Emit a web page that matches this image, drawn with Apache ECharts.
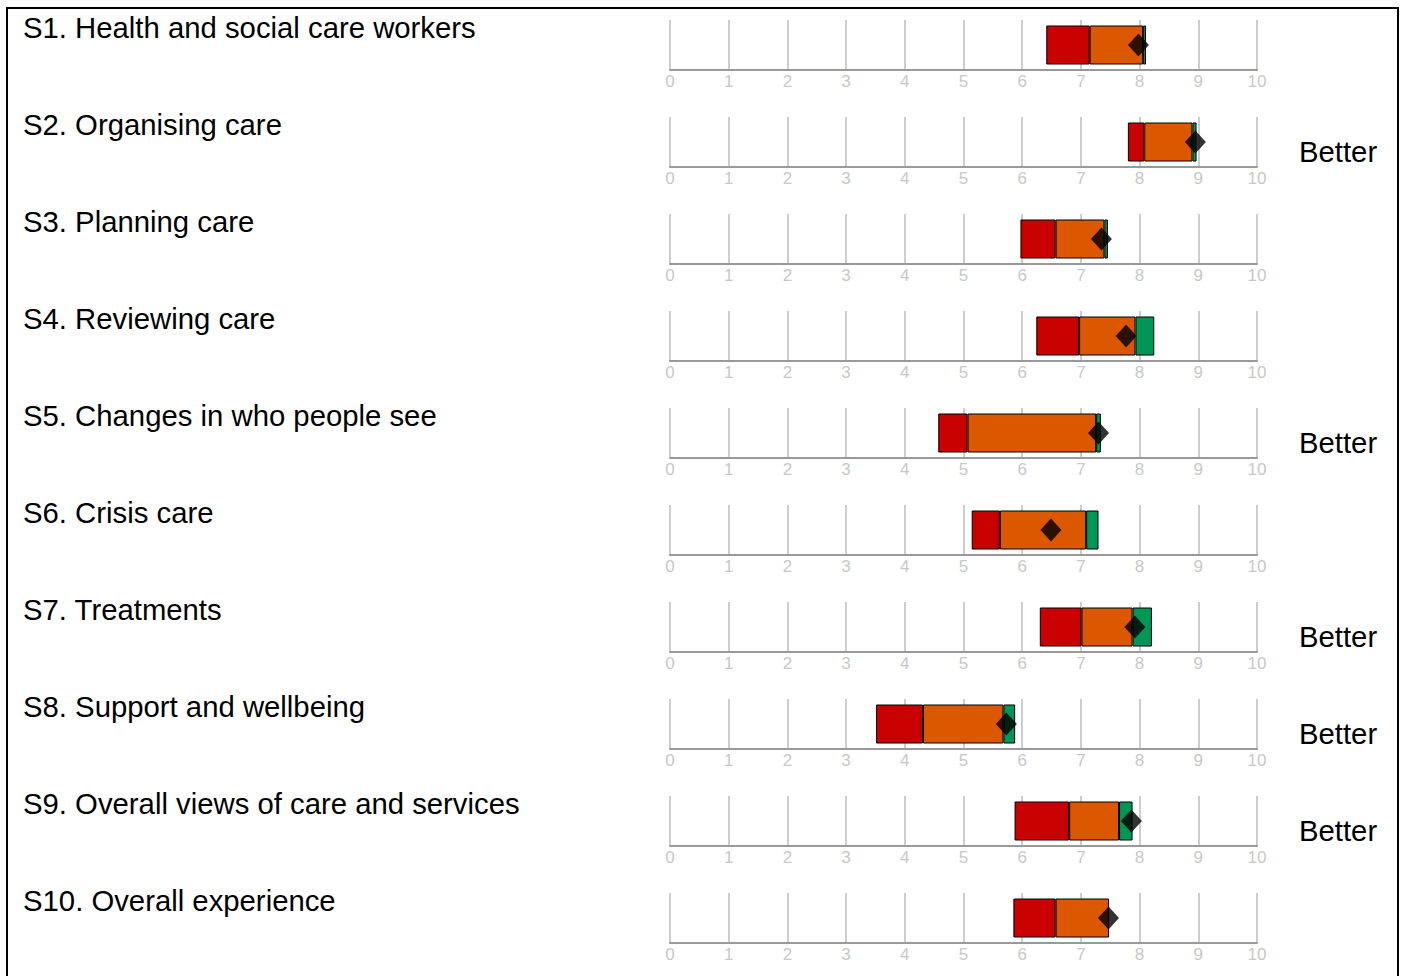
<!DOCTYPE html>
<html>
<head>
<meta charset="utf-8">
<script src="https://cdn.jsdelivr.net/npm/echarts@6/dist/echarts.min.js"></script>
<style>
html,body{margin:0;padding:0;background:#fff;}
#chart{width:1404px;height:976px;}
</style>
</head>
<body>
<div id="chart"></div>
<script>
// ---- data ----
var categories = [
  'S1. Health and social care workers',
  'S2. Organising care',
  'S3. Planning care',
  'S4. Reviewing care',
  'S5. Changes in who people see',
  'S6. Crisis care',
  'S7. Treatments',
  'S8. Support and wellbeing',
  'S9. Overall views of care and services',
  'S10. Overall experience'
];
var redStart   = [6.41, 7.80, 5.97, 6.24, 4.57, 5.14, 6.30, 3.51, 5.87, 5.85];
var redEnd     = [7.15, 8.08, 6.57, 6.97, 5.07, 5.62, 7.01, 4.31, 6.80, 6.57];
var orangeEnd  = [8.06, 8.90, 7.40, 7.93, 7.26, 7.09, 7.88, 5.68, 7.65, 7.48];
var greenEnd   = [8.11, 8.97, 7.46, 8.25, 7.34, 7.30, 8.21, 5.88, 7.88, 7.48];
var scores     = [7.98, 8.95, 7.35, 7.77, 7.30, 6.49, 7.92, 5.73, 7.86, 7.47];
var betterFlags = [false, true, false, false, true, false, true, true, true, false];
var betterText = 'Better';
var tickLabels = ['0','1','2','3','4','5','6','7','8','9','10'];

// ---- layout ----
var ROW_H = 97, ROW0 = 8, GRID_LEFT = 670, GRID_W = 587, GRID_OFF = 12, GRID_H = 50;
var FONT = '"Liberation Sans", Arial, sans-serif';

var grids = [], xAxes = [], yAxes = [], series = [], graphics = [];

graphics.push({
  type: 'rect', shape: {x: 7, y: 8, width: 1391, height: 990},
  style: {fill: 'none', stroke: '#000', lineWidth: 2}, z: 0
});

function seg(a, b) { var v = +(b - a).toFixed(4); return v > 0 ? v : '-'; }

categories.forEach(function (cat, i) {
  var top = ROW0 + ROW_H * i;
  grids.push({left: GRID_LEFT, width: GRID_W, top: top + GRID_OFF, height: GRID_H});
  xAxes.push({
    gridIndex: i, type: 'value', min: 0, max: 10, interval: 1,
    axisLine: {show: true, lineStyle: {color: '#999', width: 2}},
    axisTick: {show: false},
    splitLine: {show: true, lineStyle: {color: '#bdbdbd', width: 1.5}},
    axisLabel: {
      color: '#c8c8c8', fontSize: 17, fontFamily: FONT, margin: 3,
      formatter: function (v) { return tickLabels[Math.round(v)]; }
    }
  });
  yAxes.push({
    gridIndex: i, type: 'category', data: [cat],
    axisLine: {show: false}, axisTick: {show: false}, axisLabel: {show: false},
    splitLine: {show: false}
  });
  var common = {type: 'bar', xAxisIndex: i, yAxisIndex: i, stack: 's' + i, barWidth: 39};
  series.push(Object.assign({}, common, {
    data: [redStart[i]], itemStyle: {color: 'transparent'}, silent: true
  }));
  series.push(Object.assign({}, common, {
    data: [seg(redStart[i], redEnd[i])], itemStyle: {color: '#c80000', borderColor: '#000', borderWidth: 1}
  }));
  series.push(Object.assign({}, common, {
    data: [seg(redEnd[i], orangeEnd[i])], itemStyle: {color: '#db5700', borderColor: '#000', borderWidth: 1}
  }));
  series.push(Object.assign({}, common, {
    data: [seg(orangeEnd[i], greenEnd[i])], itemStyle: {color: '#009658', borderColor: '#000', borderWidth: 1}
  }));
  series.push({
    type: 'scatter', xAxisIndex: i, yAxisIndex: i, z: 10,
    symbol: 'diamond', symbolSize: [21, 23],
    data: [[scores[i], cat]], itemStyle: {color: '#000'}
  });
  graphics.push({
    type: 'text', left: 23, top: top + 5,
    style: {text: cat, font: '29.3px ' + FONT, fill: '#000'}
  });
  if (betterFlags[i]) {
    graphics.push({
      type: 'text', left: 1299, top: top + GRID_OFF + GRID_H - 15 - 15,
      style: {text: betterText, font: '29.3px ' + FONT, fill: '#000'}
    });
  }
});

var chart = echarts.init(document.getElementById('chart'), null, {renderer: 'svg'});
chart.setOption({
  animation: false,
  backgroundColor: '#fff',
  grid: grids, xAxis: xAxes, yAxis: yAxes, series: series, graphic: graphics
});
</script>
</body>
</html>
